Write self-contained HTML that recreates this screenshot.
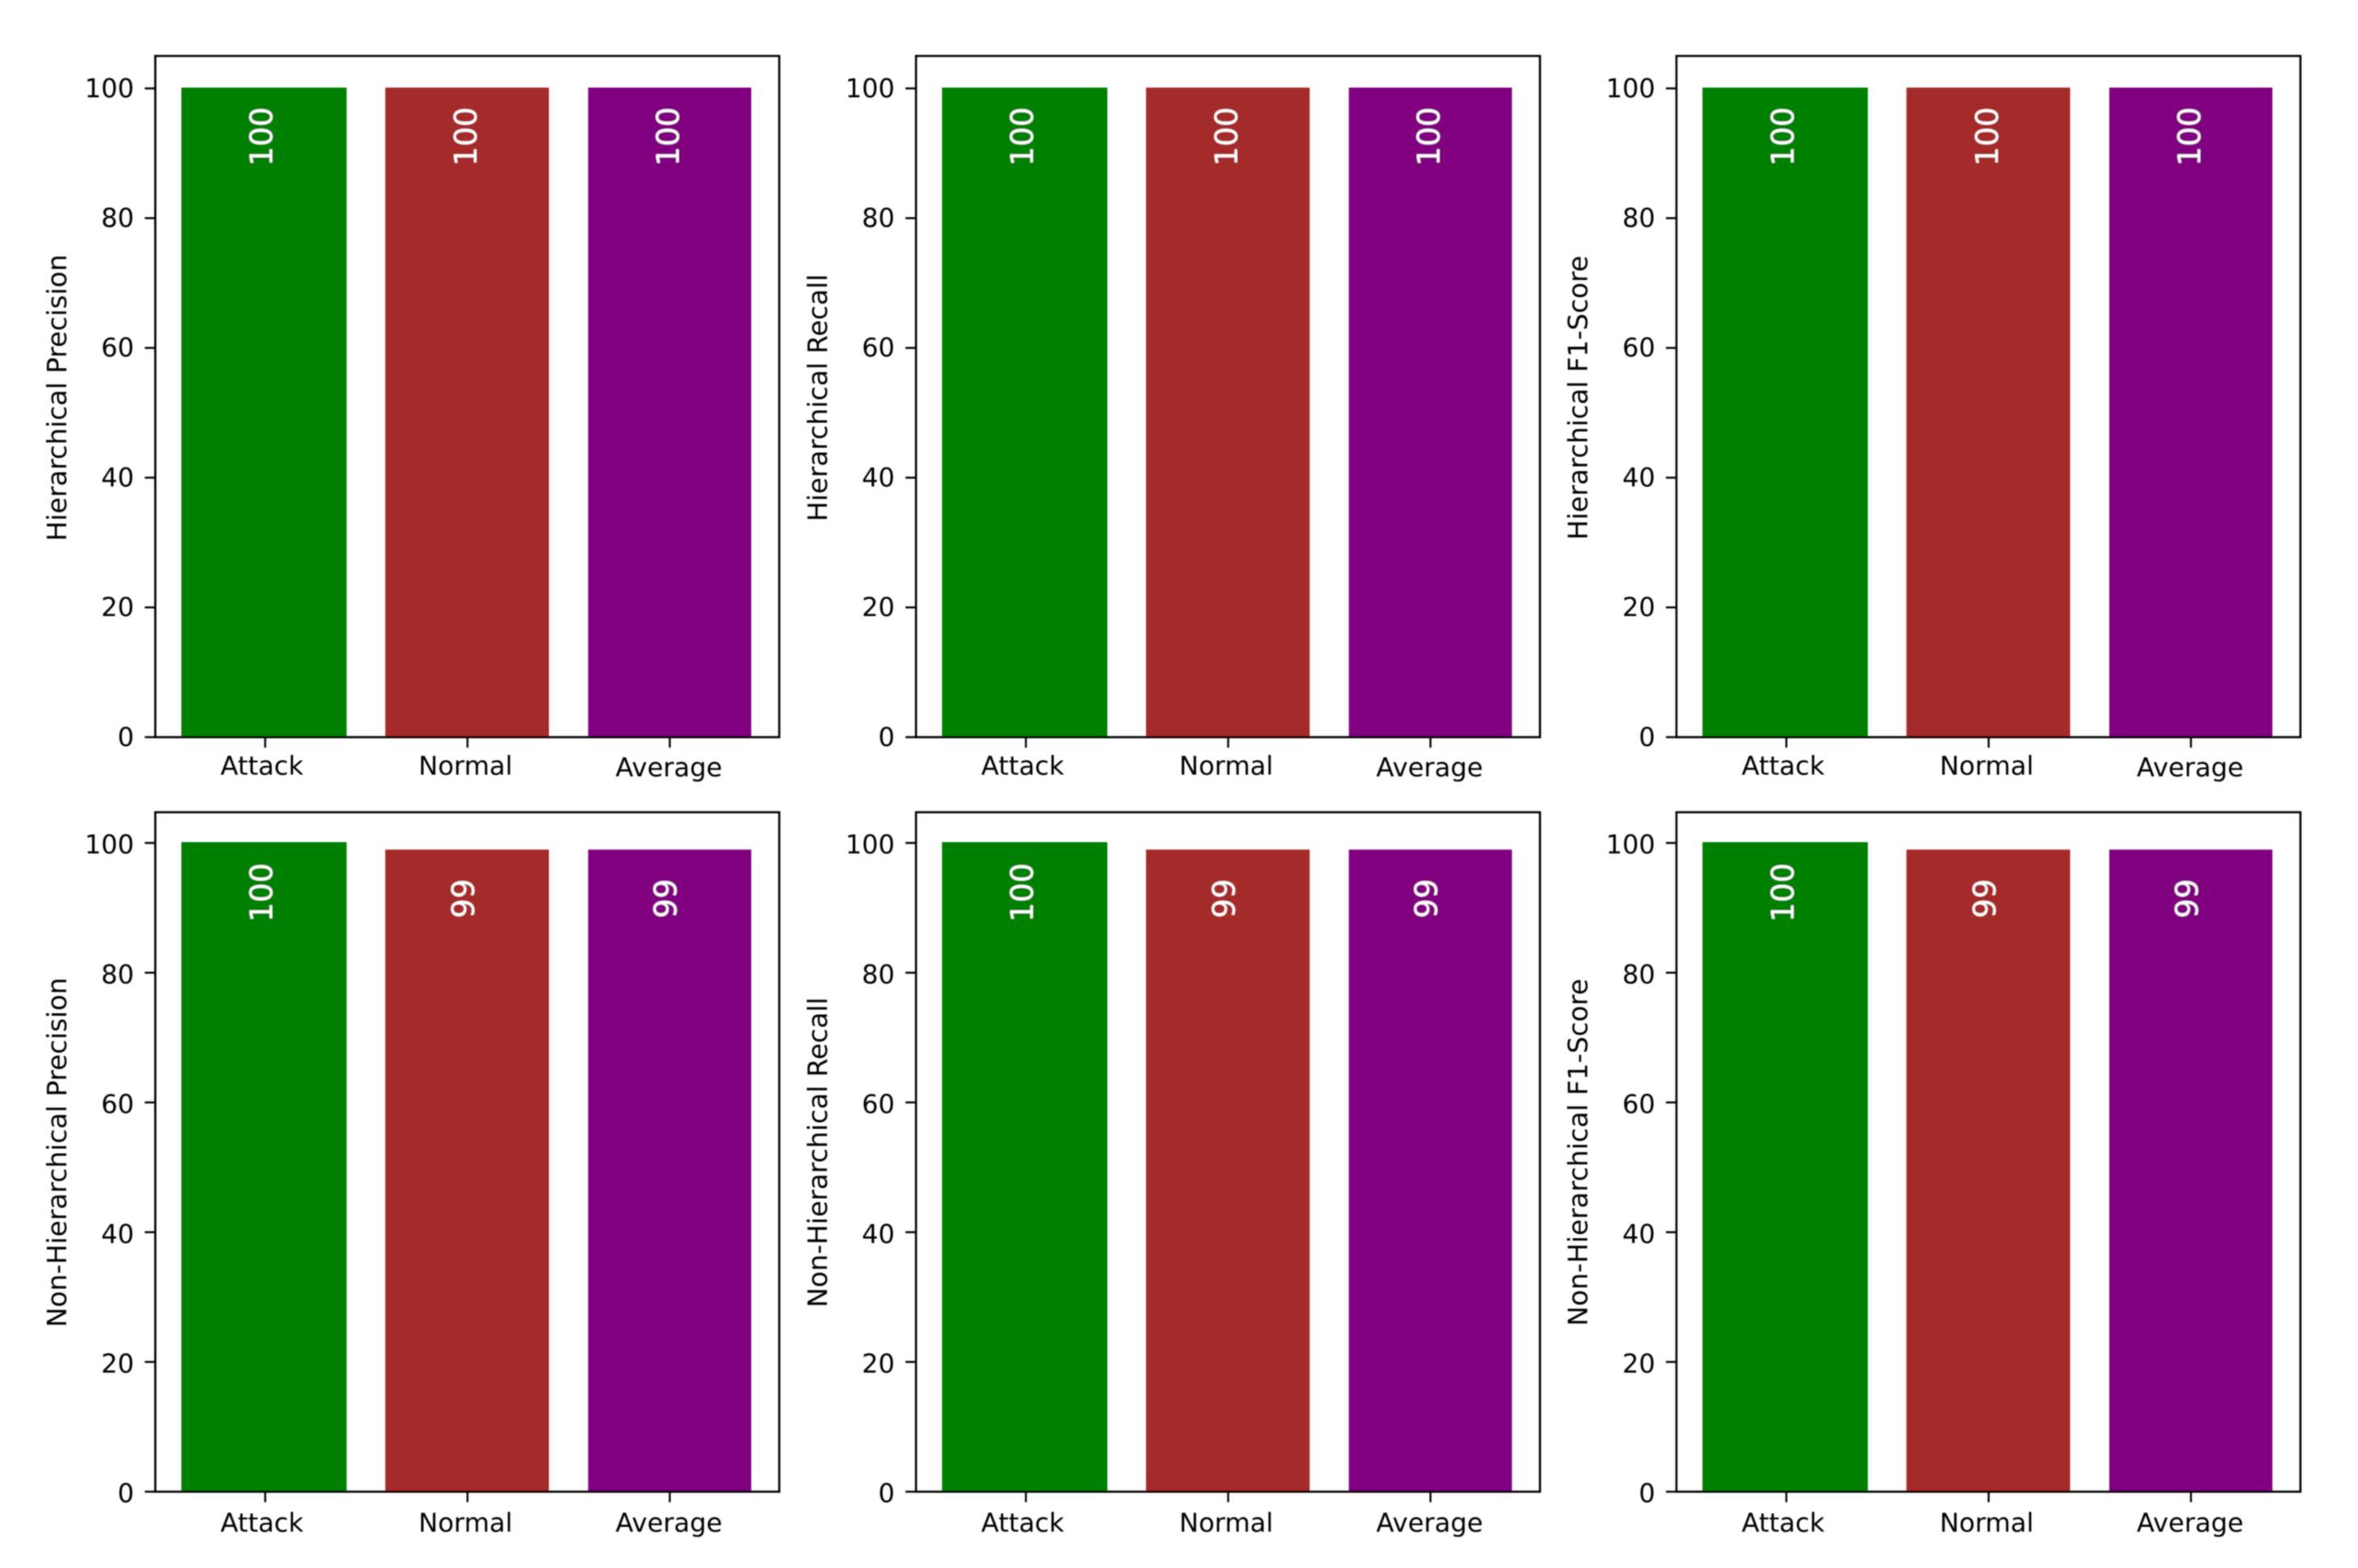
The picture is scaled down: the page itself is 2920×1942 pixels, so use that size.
<!DOCTYPE html>
<html lang="en">
<head>
<meta charset="utf-8">
<title>Hierarchical and non-hierarchical metrics</title>
<style>
  html, body { margin: 0; padding: 0; background: #fff; }
  body { width: 2920px; height: 1942px; overflow: hidden; }
  svg { display: block; }
  text { font-family: "DejaVu Sans", "Liberation Sans", sans-serif; }
</style>
</head>
<body>
<svg id="chart" xmlns="http://www.w3.org/2000/svg" width="2920" height="1942" viewBox="0 0 2920 1942">
  <defs>
    <filter id="soft" x="0" y="0" width="100%" height="100%" filterUnits="userSpaceOnUse" primitiveUnits="userSpaceOnUse">
      <feGaussianBlur stdDeviation="0.9"/>
    </filter>
  </defs>
  <rect width="2920" height="1942" fill="#fff"/>
  <g id="root" filter="url(#soft)"></g>
</svg>
<script>
const categories = ['Attack', 'Normal', 'Average'];
const yTickValues = [0, 20, 40, 60, 80, 100];
const hierarchicalPrecision = [100, 100, 100];
const hierarchicalRecall = [100, 100, 100];
const hierarchicalF1 = [100, 100, 100];
const nonHierarchicalPrecision = [100, 98.85, 98.85];
const nonHierarchicalRecall = [100, 98.85, 98.85];
const nonHierarchicalF1 = [100, 98.85, 98.85];
const yAxisTitles = [
  'Hierarchical Precision', 'Hierarchical Recall', 'Hierarchical F1-Score',
  'Non-Hierarchical Precision', 'Non-Hierarchical Recall', 'Non-Hierarchical F1-Score'
];
const seriesList = [
  hierarchicalPrecision, hierarchicalRecall, hierarchicalF1,
  nonHierarchicalPrecision, nonHierarchicalRecall, nonHierarchicalF1
];

const barColors = ['#008000', '#a52a2a', '#800080'];
const SVG_NS = 'http://www.w3.org/2000/svg';
const root = document.getElementById('root');

function add(parent, tag) {
  const el = document.createElementNS(SVG_NS, tag);
  parent.appendChild(el);
  return el;
}
function set(el, props) {
  for (const k in props) el.setAttribute(k, props[k]);
  return el;
}

const AXES_W = 772.7;
const COL_X = [192.3, 1134.3, 2076];
const ROW_TOP = [69.3, 1006];
const ROW_BOTTOM = [913, 1847.5];
const UNIT_Y = 8.035;
const SPINE = 2.6;
const TICK_LEN = 13;

seriesList.forEach(function (values, p) {
  const col = p % 3;
  const row = Math.floor(p / 3);
  const left = COL_X[col];
  const right = left + AXES_W;
  const top = ROW_TOP[row];
  const bottom = ROW_BOTTOM[row];
  const xScale = function (i) { return left + 136.1 + i * 250.5; };
  const yScale = function (v) { return bottom - v * UNIT_Y; };

  const panel = add(root, 'g');
  
  

  values.forEach(function (v, i) {
    const cx = xScale(i);
    const leftPad = i === 0 ? 2.8 : (i === 1 ? 0.7 : 0);
    const bar = add(panel, 'rect');
    
    
    const barTop = yScale(v) - 1;
    set(bar, { x: cx - 101.1 - leftPad, y: barTop, width: 202 + leftPad, height: bottom - barTop, fill: barColors[i] });

    const label = String(Math.round(v));
    const dx = label === '100' ? (i > 0 ? 11.3 : 8.8) : 8.3;
    const drop = (row === 1 && label === '100') ? 62.5 : 60.7;
    const tx = cx + dx;
    const ty = yScale(v) - 1 + drop;
    const val = add(panel, 'text');
    
    
    set(val, { x: 0, y: 0, transform: 'translate(' + tx + ' ' + ty + ') rotate(-90)', 'text-anchor': 'middle', 'font-size': 38.4, fill: '#fff' });
    val.textContent = label;
  });

  yTickValues.forEach(function (t) {
    const y = yScale(t);
    const tick = add(panel, 'line');
    
    
    set(tick, { x1: left - TICK_LEN, x2: left, y1: y, y2: y, stroke: '#000', 'stroke-width': 2.4 });
    const lab = add(panel, 'text');
    
    
    set(lab, { x: left - 26.3, y: y + (row === 0 ? 10.8 : 13.2), 'text-anchor': 'end', 'font-size': 32, fill: '#000' });
    lab.textContent = t;
  });

  const labelShift = [-4, -2.4, -1];
  categories.forEach(function (c, i) {
    const x = xScale(i);
    const tick = add(panel, 'line');
    
    
    set(tick, { x1: x, x2: x, y1: bottom, y2: bottom + TICK_LEN, stroke: '#000', 'stroke-width': 2.4 });
    const lab = add(panel, 'text');
    
    
    const drop = row === 0 ? (i === 2 ? 48.5 : 46.5) : 49.5;
    set(lab, { x: x + labelShift[i], y: bottom + drop, 'text-anchor': 'middle', 'font-size': 32.2, fill: '#000' });
    lab.textContent = c;
  });

  const spine = add(panel, 'rect');
  
  
  set(spine, { x: left, y: top, width: right - left, height: bottom - top, fill: 'none', stroke: '#000', 'stroke-width': SPINE });

  const title = add(panel, 'text');
  
  
  const titleX = left - 110.5;
  const titleY = (top + bottom) / 2 + (row === 0 ? 1.5 : 0.5);
  set(title, { x: 0, y: 0, transform: 'translate(' + titleX + ' ' + titleY + ') rotate(-90)', 'text-anchor': 'middle', 'font-size': 33.1, fill: '#000' });
  title.textContent = yAxisTitles[p];
});
</script>
</body>
</html>
